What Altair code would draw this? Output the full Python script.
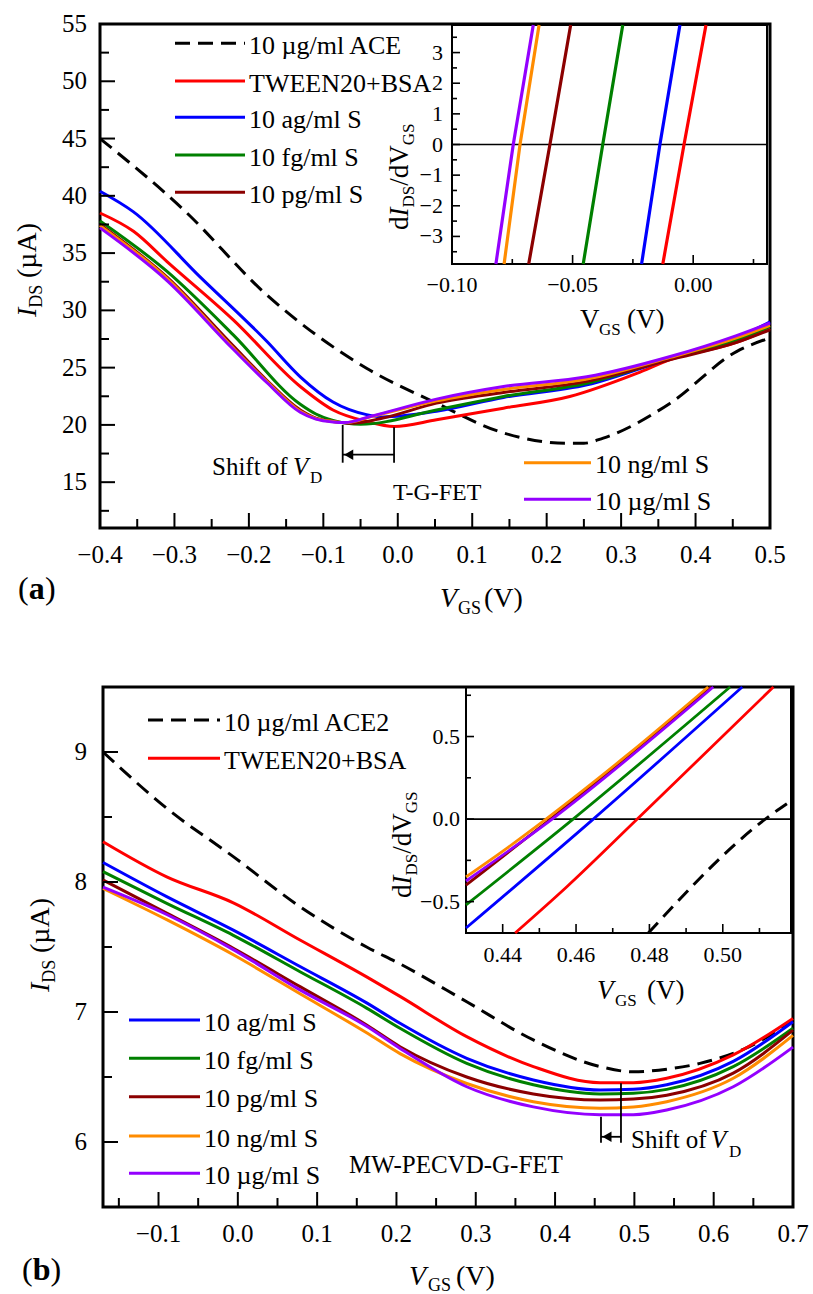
import altair as alt
import pandas as pd

FONT = "Liberation Serif"

# ---------------- series names and colours ----------------
NAMES_A = ["10 µg/ml ACE", "TWEEN20+BSA", "10 ag/ml S", "10 fg/ml S", "10 pg/ml S", "10 ng/ml S", "10 µg/ml S"]
NAMES_B = ["10 µg/ml ACE2", "TWEEN20+BSA", "10 ag/ml S", "10 fg/ml S", "10 pg/ml S", "10 ng/ml S", "10 µg/ml S"]
COLORS = ["#000000", "#FF0000", "#0000FF", "#008000", "#8B0000", "#FF8C00", "#9400FF"]

# ---------------- panel (a) main: V_GS (V) -> I_DS (µA) ----------------
A_ACE_V = [-0.40, -0.288, -0.176, -0.042, 0.052, 0.142, 0.227, 0.25, 0.276, 0.366, 0.455, 0.50]
A_ACE_I = [45.0, 38.8, 31.35, 24.95, 21.9, 19.3, 18.4, 18.4, 18.85, 21.9, 26.4, 27.6]
A_TW_V = [-0.40, -0.355, -0.310, -0.221, -0.131, -0.087, -0.042, -0.005, 0.052, 0.142, 0.231, 0.321, 0.366, 0.455, 0.50]
A_TW_I = [38.5, 36.9, 34.26, 29.17, 23.35, 21.3, 20.3, 19.86, 20.45, 21.46, 22.48, 24.5, 25.7, 27.2, 28.4]
A_AG_V = [-0.40, -0.355, -0.266, -0.176, -0.131, -0.087, -0.042, -0.02, 0.052, 0.142, 0.254, 0.366, 0.455, 0.50]
A_AG_I = [40.4, 38.6, 32.95, 27.3, 24.2, 22.0, 20.9, 20.7, 21.2, 22.4, 23.5, 25.8, 27.6, 29.0]
A_FG_V = [-0.40, -0.310, -0.221, -0.131, -0.11, -0.087, -0.050, 0.052, 0.142, 0.254, 0.366, 0.455, 0.50]
A_FG_I = [37.8, 33.4, 27.86, 21.8, 20.95, 20.4, 20.05, 21.3, 22.48, 23.64, 25.8, 27.4, 28.6]
A_PG_V = [-0.40, -0.310, -0.221, -0.176, -0.131, -0.11, -0.087, -0.060, -0.02, 0.052, 0.142, 0.254, 0.366, 0.455, 0.50]
A_PG_I = [37.5, 32.9, 26.9, 23.9, 21.3, 20.6, 20.3, 20.15, 20.6, 21.9, 22.83, 23.8, 25.7, 27.2, 28.3]
A_NG_V = [-0.40, -0.310, -0.221, -0.176, -0.131, -0.11, -0.087, -0.070, -0.037, 0.052, 0.142, 0.254, 0.366, 0.455, 0.50]
A_NG_I = [37.4, 32.8, 26.7, 23.8, 21.2, 20.55, 20.3, 20.2, 20.7, 22.1, 23.1, 24.0, 25.9, 27.6, 28.7]
A_UG_V = [-0.40, -0.310, -0.221, -0.176, -0.131, -0.11, -0.087, -0.071, -0.037, 0.052, 0.142, 0.254, 0.366, 0.455, 0.50]
A_UG_I = [37.2, 32.6, 26.6, 23.7, 21.1, 20.5, 20.25, 20.2, 20.74, 22.25, 23.35, 24.2, 25.97, 27.8, 28.9]

# ---------------- panel (a) inset: V_GS (V) -> dI_DS/dV_GS ----------------
AI_V = {
    "TW": [-0.0126, -0.0038, 0.0053],
    "AG": [-0.0214, -0.0138, -0.0055],
    "FG": [-0.0456, -0.0375, -0.0292],
    "PG": [-0.0682, -0.0594, -0.0508],
    "NG": [-0.0784, -0.0718, -0.0639],
    "UG": [-0.0818, -0.0746, -0.0663],
}
AI_D = [-3.9, 0.0, 3.9]

# ---------------- panel (b) main ----------------
B_ACE_V = [-0.17, -0.0897, -0.0057, 0.0784, 0.1624, 0.2045, 0.2886, 0.3726, 0.4567, 0.4987, 0.5408, 0.5827, 0.64, 0.70]
B_ACE_I = [9.0, 8.567, 8.195, 7.81, 7.50, 7.37, 7.079, 6.785, 6.58, 6.54, 6.56, 6.605, 6.72, 6.93]
B_V = [-0.17, -0.0897, -0.0057, 0.0784, 0.1624, 0.2045, 0.2886, 0.3726, 0.4567, 0.4987, 0.5408, 0.6247, 0.70]
B_TW_I = [8.31, 8.04, 7.84, 7.554, 7.27, 7.12, 6.81, 6.58, 6.456, 6.456, 6.49, 6.67, 6.95]
B_AG_I = [8.15, 7.887, 7.63, 7.35, 7.07, 6.913, 6.644, 6.477, 6.40, 6.405, 6.44, 6.62, 6.925]
B_FG_I = [8.08, 7.836, 7.59, 7.31, 7.03, 6.875, 6.605, 6.44, 6.37, 6.375, 6.405, 6.58, 6.875]
B_PG_I = [8.015, 7.76, 7.49, 7.195, 6.90, 6.733, 6.50, 6.37, 6.323, 6.33, 6.36, 6.53, 6.86]
B_NG_I = [7.95, 7.71, 7.44, 7.14, 6.84, 6.68, 6.45, 6.31, 6.26, 6.27, 6.31, 6.49, 6.82]
B_UG_I = [7.96, 7.75, 7.48, 7.17, 6.89, 6.72, 6.425, 6.27, 6.21, 6.21, 6.246, 6.425, 6.73]

# ---------------- panel (b) inset ----------------
BI_ACE_V = [0.4797, 0.5116, 0.5179]
BI_ACE_D = [-0.69, 0.0, 0.10]
BI_TW_V = [0.4434, 0.4575, 0.4767, 0.5138]
BI_TW_D = [-0.69, -0.41, 0.0, 0.80]
BI_AG_V = [0.43, 0.4647, 0.5053]
BI_AG_D = [-0.66, 0.0, 0.80]
BI_FG_V = [0.43, 0.4592, 0.502]
BI_FG_D = [-0.52, 0.0, 0.80]
BI_PG_V = [0.43, 0.453, 0.4968]
BI_PG_D = [-0.40, 0.0, 0.80]
BI_NG_V = [0.43, 0.4411, 0.4518, 0.4739, 0.496]
BI_NG_D = [-0.35, -0.177, 0.0, 0.387, 0.80]
BI_UG_V = [0.43, 0.4535, 0.4974]
BI_UG_D = [-0.375, 0.0, 0.80]

# Dirac-point shift markers
A_SHIFT_V = [-0.074, -0.005]
A_SHIFT_TOP = [20.0, 19.8]
A_SHIFT_BOT = 16.7
A_ARROW_I = 17.4
B_SHIFT_V = [0.4579, 0.4831]
B_SHIFT_TOP = [6.195, 6.452]
B_SHIFT_BOT = 5.995
B_ARROW_I = 6.04

# ---------------- ticks ----------------
A_XT = [-0.4, -0.3, -0.2, -0.1, 0.0, 0.1, 0.2, 0.3, 0.4, 0.5]
A_XT_L = ["−0.4", "−0.3", "−0.2", "−0.1", "0.0", "0.1", "0.2", "0.3", "0.4", "0.5"]
A_XM = [-0.35, -0.25, -0.15, -0.05, 0.05, 0.15, 0.25, 0.35, 0.45]
A_YT = [15, 20, 25, 30, 35, 40, 45, 50, 55]
A_YM = [12.5, 17.5, 22.5, 27.5, 32.5, 37.5, 42.5, 47.5, 52.5]
AI_XT = [-0.10, -0.05, 0.00]
AI_XT_L = ["−0.10", "−0.05", "0.00"]
AI_XM = [-0.075, -0.025, 0.025]
AI_YT = [-3, -2, -1, 0, 1, 2, 3]
AI_YT_L = ["−3", "−2", "−1", "0", "1", "2", "3"]
AI_YM = [-3.5, -2.5, -1.5, -0.5, 0.5, 1.5, 2.5, 3.5]
B_XT = [-0.1, 0.0, 0.1, 0.2, 0.3, 0.4, 0.5, 0.6, 0.7]
B_XT_L = ["−0.1", "0.0", "0.1", "0.2", "0.3", "0.4", "0.5", "0.6", "0.7"]
B_XM = [-0.15, -0.05, 0.05, 0.15, 0.25, 0.35, 0.45, 0.55, 0.65]
B_YT = [6, 7, 8, 9]
B_YM = [6.5, 7.5, 8.5]
BI_XT = [0.44, 0.46, 0.48, 0.50]
BI_XT_L = ["0.44", "0.46", "0.48", "0.50"]
BI_XM = [0.45, 0.47, 0.49, 0.51]
BI_YT = [-0.5, 0.0, 0.5]
BI_YT_L = ["−0.5", "0.0", "0.5"]
BI_YM = [-0.25, 0.25, 0.75]

# ---------------- layout (pixel) ----------------
PANELS = {
    "a": dict(x=([-0.4, 0.5], [100, 770]), y=([11, 55], [528, 24])),
    "ai": dict(x=([-0.10, 0.0306], [452, 767]), y=([-3.9, 3.9], [264, 25])),
    "b": dict(x=([-0.17, 0.70], [103, 793]), y=([5.5, 9.5], [1207, 687])),
    "bi": dict(x=([0.43, 0.5186], [466, 791]), y=([-0.69, 0.80], [933, 687])),
}


def S(dom, rng):
    return alt.Scale(domain=list(dom), range=list(rng), nice=False, zero=False)


def X(p, f="v"):
    return alt.X(f"{f}:Q", scale=S(*PANELS[p]["x"]), axis=None)


def Y(p, f="w"):
    return alt.Y(f"{f}:Q", scale=S(*PANELS[p]["y"]), axis=None)


def left(p):
    return PANELS[p]["x"][1][0]


def bottom(p):
    return PANELS[p]["y"][1][0]


def curve(p, xs, ys, color, width=3.0, dash=None, smooth=True):
    df = pd.DataFrame({"v": xs, "w": ys, "k": list(range(len(xs)))})
    kw = dict(color=color, strokeWidth=width)
    if smooth:
        kw["interpolate"] = "monotone"
    if dash:
        kw["strokeDash"] = dash
    return alt.Chart(df).mark_line(**kw).encode(x=X(p), y=Y(p), order="k:Q")


def xticks(p, vals, length, width=2):
    df = pd.DataFrame({"v": vals})
    b = bottom(p)
    return alt.Chart(df).mark_rule(color="black", strokeWidth=width).encode(
        x=X(p), y=alt.value(b), y2=alt.value(b - length))


def yticks(p, vals, length, width=2):
    df = pd.DataFrame({"w": vals})
    l = left(p)
    return alt.Chart(df).mark_rule(color="black", strokeWidth=width).encode(
        y=Y(p), x=alt.value(l), x2=alt.value(l + length))


def xlabels(p, vals, texts, base_y, size):
    df = pd.DataFrame({"v": vals, "t": texts})
    return alt.Chart(df).mark_text(font=FONT, fontSize=size, align="center",
                                   baseline="alphabetic", color="black").encode(
        x=X(p), y=alt.value(base_y), text="t:N")


def ylabels(p, vals, texts, right_x, size, dy):
    df = pd.DataFrame({"w": vals, "t": texts})
    return alt.Chart(df).mark_text(font=FONT, fontSize=size, align="right",
                                   baseline="alphabetic", dy=dy, color="black").encode(
        y=Y(p), x=alt.value(right_x), text="t:N")


def frame(p, width):
    (xd, _), (yd, _) = PANELS[p]["x"], PANELS[p]["y"]
    df = pd.DataFrame({"v": [xd[0]], "v2": [xd[1]], "w": [yd[0]], "w2": [yd[1]]})
    return alt.Chart(df).mark_rect(fillOpacity=0, stroke="black", strokeWidth=width).encode(
        x=X(p), x2="v2:Q", y=Y(p), y2="w2:Q")


def zero_line(p):
    xd = PANELS[p]["x"][0]
    df = pd.DataFrame({"v": [xd[0]], "v2": [xd[1]], "w": [0.0]})
    return alt.Chart(df).mark_rule(color="black", strokeWidth=1.6).encode(
        x=X(p), x2="v2:Q", y=Y(p))


def shift_marker(p, vs, tops, bot, arrow_i):
    df = pd.DataFrame({"v": vs, "w": tops, "w2": [bot, bot]})
    lines = alt.Chart(df).mark_rule(color="black", strokeWidth=1.8).encode(
        x=X(p), y=Y(p), y2="w2:Q")
    da = pd.DataFrame({"v": [vs[1]], "v2": [vs[0]], "w": [arrow_i]})
    shaft = alt.Chart(da).mark_rule(color="black", strokeWidth=1.8).encode(
        x=X(p), x2="v2:Q", y=Y(p))
    dh = pd.DataFrame({"v": [vs[0]], "w": [arrow_i]})
    head = alt.Chart(dh).mark_point(shape="triangle-left", filled=True, color="black",
                                    size=110, opacity=1, xOffset=6).encode(x=X(p), y=Y(p))
    return [lines, shaft, head]


layers = []

# frames
layers += [frame("a", 3), frame("b", 3)]

# ---- panel a main curves
layers += [
    curve("a", A_ACE_V, A_ACE_I, COLORS[0], 3.0, [15, 8]),
    curve("a", A_TW_V, A_TW_I, COLORS[1]),
    curve("a", A_AG_V, A_AG_I, COLORS[2]),
    curve("a", A_FG_V, A_FG_I, COLORS[3]),
    curve("a", A_PG_V, A_PG_I, COLORS[4]),
    curve("a", A_NG_V, A_NG_I, COLORS[5]),
    curve("a", A_UG_V, A_UG_I, COLORS[6]),
]
# ---- panel a inset
layers += [frame("ai", 2), zero_line("ai")]
for key, col in zip(["TW", "AG", "FG", "PG", "NG", "UG"], COLORS[1:]):
    layers.append(curve("ai", AI_V[key], AI_D, col, 3.2, smooth=False))

# ---- panel b main curves
layers += [
    curve("b", B_ACE_V, B_ACE_I, COLORS[0], 3.0, [15, 8]),
    curve("b", B_V, B_TW_I, COLORS[1]),
    curve("b", B_V, B_AG_I, COLORS[2]),
    curve("b", B_V, B_FG_I, COLORS[3]),
    curve("b", B_V, B_PG_I, COLORS[4]),
    curve("b", B_V, B_NG_I, COLORS[5]),
    curve("b", B_V, B_UG_I, COLORS[6]),
]
# ---- panel b inset
layers += [frame("bi", 2), zero_line("bi")]
layers += [
    curve("bi", BI_ACE_V, BI_ACE_D, COLORS[0], 3.0, [14, 8]),
    curve("bi", BI_TW_V, BI_TW_D, COLORS[1], 2.8),
    curve("bi", BI_AG_V, BI_AG_D, COLORS[2], 2.8),
    curve("bi", BI_FG_V, BI_FG_D, COLORS[3], 2.8),
    curve("bi", BI_PG_V, BI_PG_D, COLORS[4], 2.8),
    curve("bi", BI_UG_V, BI_UG_D, COLORS[6], 2.8),
    curve("bi", BI_NG_V, BI_NG_D, COLORS[5], 2.8),
]

# ---- ticks
layers += [
    xticks("a", A_XT, 15), xticks("a", A_XM, 9), yticks("a", A_YT[:-1], 15), yticks("a", A_YM, 9),
    xticks("ai", AI_XT, 9, 1.6), xticks("ai", AI_XM, 5, 1.6), yticks("ai", AI_YT, 8, 1.6), yticks("ai", AI_YM, 5, 1.6),
    xticks("b", B_XT, 15), xticks("b", B_XM, 9), yticks("b", B_YT, 15), yticks("b", B_YM, 9),
    xticks("bi", BI_XT, 9, 1.6), xticks("bi", BI_XM, 5, 1.6), yticks("bi", BI_YT, 8, 1.6), yticks("bi", BI_YM, 5, 1.6),
]
# ---- tick labels
layers += [
    xlabels("a", A_XT, A_XT_L, 563, 25),
    ylabels("a", A_YT, [str(v) for v in A_YT], 87, 25, 8),
    xlabels("ai", AI_XT, AI_XT_L, 292, 22),
    ylabels("ai", AI_YT, AI_YT_L, 443, 22, 7),
    xlabels("b", B_XT, B_XT_L, 1242, 25),
    ylabels("b", B_YT, [str(v) for v in B_YT], 87, 25, 8),
    xlabels("bi", BI_XT, BI_XT_L, 962, 22),
    ylabels("bi", BI_YT, BI_YT_L, 460, 22, 7),
]

# ---- shift markers
layers += shift_marker("a", A_SHIFT_V, A_SHIFT_TOP, A_SHIFT_BOT, A_ARROW_I)
layers += shift_marker("b", B_SHIFT_V, B_SHIFT_TOP, B_SHIFT_BOT, B_ARROW_I)

# ---- legends (sample line positions in pixels)
LEG_ROWS = [
    # x0, x1, y, series index, panel
    (175, 245, 43.3, 0, "a"), (175, 245, 81, 1, "a"), (175, 245, 117.3, 2, "a"),
    (175, 245, 155, 3, "a"), (175, 245, 192.3, 4, "a"), (524, 591, 462.7, 5, "a"), (524, 591, 499.3, 6, "a"),
    (148, 220, 720, 0, "b"), (148, 220, 758.3, 1, "b"), (129, 200, 1020, 2, "b"),
    (129, 200, 1058.3, 3, "b"), (129, 200, 1096.7, 4, "b"), (129, 200, 1136, 5, "b"), (129, 200, 1173.3, 6, "b"),
]
leg = pd.DataFrame([
    {"x0": r[0], "x1": r[1], "y": r[2], "c": COLORS[r[3]], "dash": r[3] == 0,
     "t": (NAMES_A if r[4] == "a" else NAMES_B)[r[3]], "tx": r[1] + 4}
    for r in LEG_ROWS
])
for dashed in (True, False):
    sub = leg[leg["dash"] == dashed]
    kw = dict(strokeWidth=3)
    if dashed:
        kw["strokeDash"] = [15, 8]
    layers.append(alt.Chart(sub).mark_rule(**kw).encode(
        x=alt.X("x0:Q", scale=None, axis=None), x2="x1:Q",
        y=alt.Y("y:Q", scale=None, axis=None),
        color=alt.Color("c:N", scale=None, legend=None)))
layers.append(alt.Chart(leg).mark_text(font=FONT, fontSize=26, align="left", baseline="alphabetic",
                                       dy=10.7, color="black").encode(
    x=alt.X("tx:Q", scale=None, axis=None), y=alt.Y("y:Q", scale=None, axis=None), text="t:N"))

# ---- annotation / title texts (pixel layout)
TEXT_ROWS = [
    # text, x, y(baseline), size, angle, style
    ("V", 440, 607, 28, 0, "i"), ("GS", 458, 614, 18, 0, "n"), ("(V)", 484, 607, 28, 0, "n"),
    ("I", 36, 317, 28, 270, "i"), ("DS", 42, 307.7, 18, 270, "n"), ("(µA)", 36, 278, 28, 270, "n"),
    ("V", 580, 328, 27, 0, "n"), ("GS", 599, 335, 17, 0, "n"), ("(V)", 627, 328, 27, 0, "n"),
    ("d", 408, 230, 27, 270, "n"), ("I", 408, 216.5, 27, 270, "i"), ("DS", 414, 207.5, 17, 270, "n"),
    ("/dV", 408, 185.8, 27, 270, "n"), ("GS", 414, 145.3, 17, 270, "n"),
    ("Shift of", 212, 475, 25, 0, "n"), ("V", 293, 475, 25, 0, "i"), ("D", 310, 483, 17, 0, "n"),
    ("T-G-FET", 393, 500, 24, 0, "n"),
    ("(", 18, 599, 32, 0, "n"), ("a", 28.7, 599, 32, 0, "b"), (")", 45, 599, 32, 0, "n"),
    ("V", 409, 1285, 28, 0, "i"), ("GS", 428, 1291, 18, 0, "n"), ("(V)", 456, 1285, 28, 0, "n"),
    ("I", 49, 992, 28, 270, "i"), ("DS", 55, 982.7, 18, 270, "n"), ("(µA)", 49, 953, 28, 270, "n"),
    ("V", 597, 999, 27, 0, "i"), ("GS", 615, 1006, 17, 0, "n"), ("(V)", 647, 999, 27, 0, "n"),
    ("d", 411, 898, 27, 270, "n"), ("I", 411, 884.5, 27, 270, "i"), ("DS", 417, 875.5, 17, 270, "n"),
    ("/dV", 411, 853.8, 27, 270, "n"), ("GS", 417, 813.3, 17, 270, "n"),
    ("Shift of", 631, 1148, 25, 0, "n"), ("V", 711, 1148, 25, 0, "i"), ("D", 729, 1157, 17, 0, "n"),
    ("MW-PECVD-G-FET", 349, 1173, 25, 0, "n"),
    ("(", 22, 1280, 32, 0, "n"), ("b", 32.7, 1280, 32, 0, "b"), (")", 50.5, 1280, 32, 0, "n"),
]
txt = pd.DataFrame(TEXT_ROWS, columns=["t", "x", "y", "size", "angle", "style"])
STYLE = {"n": dict(fontStyle="normal", fontWeight="normal"),
         "i": dict(fontStyle="italic", fontWeight="normal"),
         "b": dict(fontStyle="normal", fontWeight="bold")}
for st, kw in STYLE.items():
    sub = txt[txt["style"] == st]
    layers.append(alt.Chart(sub).mark_text(font=FONT, align="left", baseline="alphabetic",
                                           color="black", **kw).encode(
        x=alt.X("x:Q", scale=None, axis=None), y=alt.Y("y:Q", scale=None, axis=None),
        size=alt.Size("size:Q", scale=None, legend=None),
        angle=alt.Angle("angle:Q", scale=None, legend=None),
        text="t:N"))

chart = alt.layer(*layers).resolve_scale(x="independent", y="independent").properties(
    width=813, height=1294, padding=0,
    autosize=alt.AutoSizeParams(type="none"), background="white",
).configure_view(stroke=None)

chart.save("out.html", embed_options={"renderer": "svg", "actions": False})
